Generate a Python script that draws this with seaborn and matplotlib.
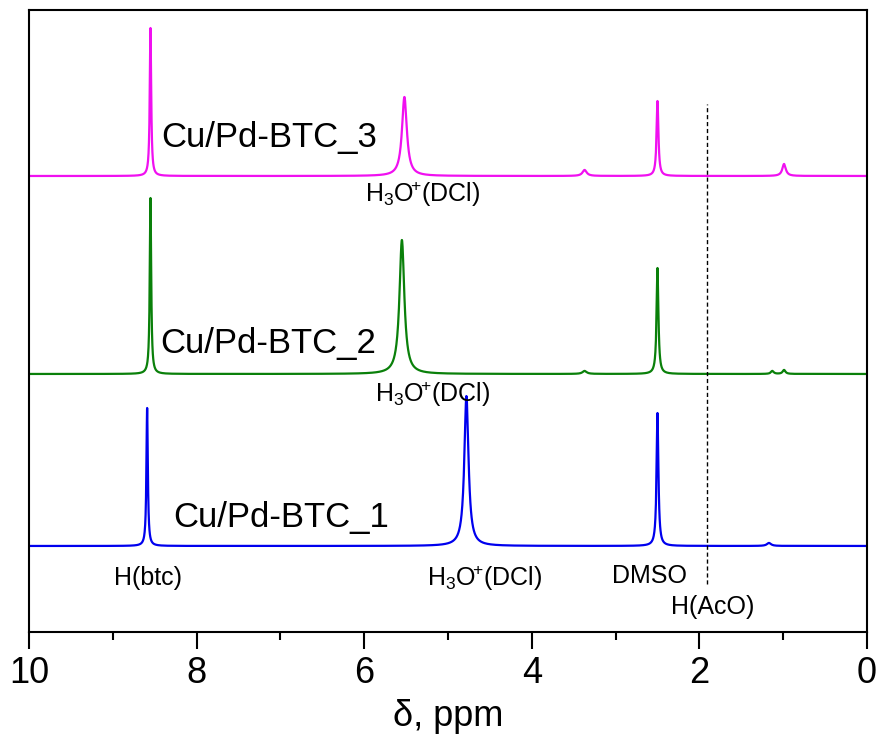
import numpy as np
import pandas as pd
import seaborn as sns
import matplotlib.pyplot as plt

# peak tables: position (ppm), height, half width (ppm)
samples = ['Cu/Pd-BTC_1', 'Cu/Pd-BTC_2', 'Cu/Pd-BTC_3']
colors = ['#0000ee', '#0a800a', '#f010f0']
offsets = [86, 258, 456]

pos_1 = [8.59, 4.78, 2.50, 1.17]
hgt_1 = [138, 150, 133, 3]
wid_1 = [0.010, 0.030, 0.013, 0.03]

pos_2 = [8.55, 5.55, 2.50, 3.37, 1.13, 0.99]
hgt_2 = [176, 134, 106, 3, 3, 4]
wid_2 = [0.010, 0.035, 0.013, 0.03, 0.02, 0.02]

pos_3 = [8.55, 5.52, 2.50, 3.37, 0.99]
hgt_3 = [148, 79, 75, 6, 12]
wid_3 = [0.010, 0.035, 0.013, 0.03, 0.025]

peaks = [(pos_1, hgt_1, wid_1), (pos_2, hgt_2, wid_2), (pos_3, hgt_3, wid_3)]
acoh = 1.91

sns.set_style("ticks")
plt.rcParams['font.family'] = ['Liberation Sans', 'DejaVu Sans']
plt.rcParams['mathtext.fontset'] = 'custom'
plt.rcParams['mathtext.rm'] = 'Liberation Sans'
plt.rcParams['text.color'] = 'black'
plt.rcParams['axes.edgecolor'] = 'black'
plt.rcParams['xtick.color'] = 'black'
plt.rcParams['axes.labelcolor'] = 'black'

fig = plt.figure(figsize=(8.78, 7.4), dpi=100)
ax = fig.add_axes([0.033, 0.146, 0.9545, 0.8405])

ppm = np.linspace(0, 10, 8000)
frames = []
for name, off, (p, h, w) in zip(samples, offsets, peaks):
    y = np.zeros_like(ppm)
    for pp, hh, ww in zip(p, h, w):
        y += hh * ww**2 / ((ppm - pp)**2 + ww**2)
    frames.append(pd.DataFrame({'ppm': ppm, 'I': y + off, 'sample': name}))
df = pd.concat(frames)

sns.lineplot(data=df, x='ppm', y='I', hue='sample', palette=colors,
             hue_order=samples, sort=False, estimator=None, lw=1.6,
             legend=False, ax=ax)

ax.plot([acoh, acoh], [48, 528], ls=(0, (3, 2)), color='black', lw=1)

ax.set_xlim(10, 0)
ax.set_ylim(0, 622)
ax.set_yticks([])
ax.set_ylabel('')
ax.set_xticks([10, 8, 6, 4, 2, 0])
ax.set_xticks([9, 7, 5, 3, 1], minor=True)
ax.tick_params(axis='x', which='major', length=12, width=1.5, labelsize=26, pad=5)
ax.tick_params(axis='x', which='minor', length=6, width=1.5, bottom=True)
for s in ax.spines.values():
    s.set_linewidth(1.5)
ax.set_xlabel('δ, ppm', fontsize=26, labelpad=6)

# sample names
ax.text(8.28, 114, samples[0], fontsize=25, va='center', ha='left')
ax.text(8.43, 288, samples[1], fontsize=25, va='center', ha='left')
ax.text(8.42, 494, samples[2], fontsize=25, va='center', ha='left')

# peak labels
h3o = r'$\mathregular{H_3O^{\!{+}}(DCl)}$'
ax.text(8.58, 54, 'H(btc)', fontsize=18, ha='center', va='center')
ax.text(4.56, 54, h3o, fontsize=18, ha='center', va='center')
ax.text(2.59, 56, 'DMSO', fontsize=18, ha='center', va='center')
ax.text(1.84, 25, 'H(AcO)', fontsize=18, ha='center', va='center')
ax.text(5.18, 238, h3o, fontsize=18, ha='center', va='center')
ax.text(5.30, 438, h3o, fontsize=18, ha='center', va='center')

fig.savefig('out.png', dpi=100)
